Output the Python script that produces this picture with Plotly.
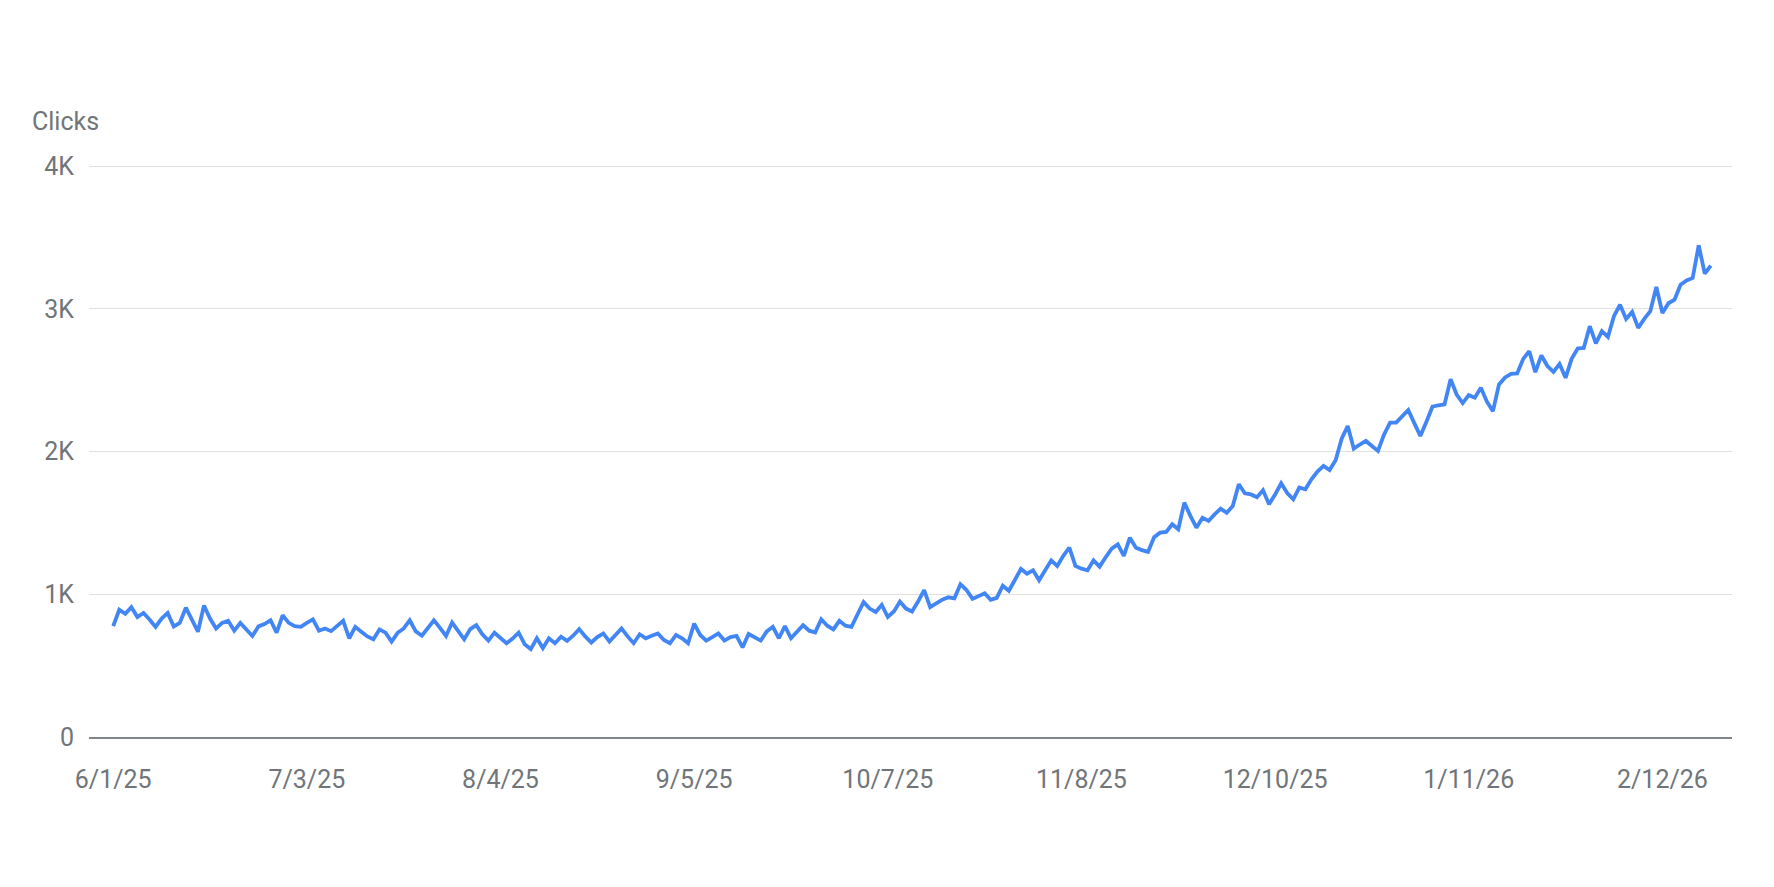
import plotly.graph_objects as go
import pandas as pd

START_DATE = "2025-06-01"

# daily clicks (6/1/25 .. 2/20/26)
clicks = [
    777, 892, 864, 910, 841, 869, 824, 772, 830, 869,
    775, 800, 906, 820, 738, 922, 830, 761, 800, 814,
    745, 800, 755, 708, 775, 791, 818, 731, 853, 800,
    777, 772, 800, 825, 745, 760, 742, 780, 814, 692,
    772, 738, 705, 685, 754, 731, 669, 730, 761, 818,
    740, 710, 761, 818, 765, 708, 802, 740, 685, 756,
    784, 720, 676, 731, 690, 657, 690, 731, 650, 616,
    692, 623, 692, 657, 703, 674, 710, 756, 705, 662,
    700, 726, 669, 715, 761, 705, 657, 720, 692, 710,
    726, 680, 657, 715, 692, 657, 795, 715, 676, 700,
    726, 676, 700, 708, 628, 722, 700, 676, 740, 772,
    692, 777, 692, 740, 784, 745, 733, 825, 780, 754,
    814, 780, 772, 860, 945, 900, 876, 926, 841, 880,
    949, 900, 880, 949, 1030, 910, 940, 963, 979, 972,
    1071, 1030, 968, 990, 1007, 961, 975, 1060, 1025, 1100,
    1178, 1145, 1168, 1098, 1170, 1238, 1199, 1270, 1327, 1199,
    1180, 1168, 1238, 1194, 1260, 1320, 1350, 1269, 1397, 1327,
    1310, 1297, 1400, 1432, 1437, 1491, 1456, 1643, 1550, 1467,
    1537, 1514, 1560, 1600, 1572, 1619, 1771, 1708, 1700, 1680,
    1729, 1631, 1700, 1778, 1710, 1666, 1748, 1736, 1806, 1860,
    1900, 1871, 1939, 2090, 2180, 2021, 2050, 2075, 2040, 2005,
    2120, 2203, 2203, 2250, 2292, 2200, 2110, 2210, 2315, 2325,
    2332, 2507, 2400, 2340, 2396, 2378, 2448, 2350, 2284, 2471,
    2520, 2545, 2548, 2650, 2704, 2557, 2674, 2600, 2559, 2615,
    2517, 2650, 2723, 2727, 2879, 2758, 2844, 2804, 2950, 3030,
    2930, 2979, 2867, 2930, 2984, 3154, 2972, 3040, 3065, 3170,
    3200, 3217, 3445, 3247, 3303,
]

x_tick_dates = ["2025-06-01", "2025-07-03", "2025-08-04", "2025-09-05", "2025-10-07",
                "2025-11-08", "2025-12-10", "2026-01-11", "2026-02-12"]
x_tick_labels = ["6/1/25", "7/3/25", "8/4/25", "9/5/25", "10/7/25",
                 "11/8/25", "12/10/25", "1/11/26", "2/12/26"]
y_tick_vals = [0, 1000, 2000, 3000, 4000]
y_tick_labels = ["0", "1K", "2K", "3K", "4K"]

dates = pd.date_range(START_DATE, periods=len(clicks), freq="D")

TEXT = "#70757a"

fig = go.Figure()
fig.add_trace(go.Scatter(
    x=dates, y=clicks, mode="lines",
    line=dict(color="#4285f4", width=3.8),
    hoverinfo="skip",
))

# the page body adds an 8px offset, so the margins are shifted up/left by 8
fig.update_layout(
    width=1774, height=887,
    margin=dict(l=81, r=50, t=144, b=158),
    paper_bgcolor="white", plot_bgcolor="white",
    font=dict(family="Roboto", size=25, color=TEXT),
    showlegend=False,
)
fig.update_xaxes(
    range=["2025-05-28", "2026-02-23 12:00"],
    tickvals=x_tick_dates, ticktext=x_tick_labels,
    showgrid=False, zeroline=False,
    showline=True, linecolor="#80868b", linewidth=1.5,
    ticks="", ticklabelstandoff=19,
    tickfont=dict(size=25, color=TEXT),
)
fig.update_yaxes(
    range=[0, 4100],
    tickvals=y_tick_vals, ticktext=y_tick_labels,
    showgrid=True, gridcolor="#e0e0e0", gridwidth=1.2,
    zeroline=False, showline=False,
    ticks="", ticklabelstandoff=14,
    tickfont=dict(size=25, color=TEXT),
)
fig.add_annotation(
    text="Clicks", xref="paper", yref="paper",
    x=-0.0359, y=1.0513, xanchor="left", yanchor="middle",
    showarrow=False, font=dict(size=25, color=TEXT),
)

fig.write_html("out.html")
